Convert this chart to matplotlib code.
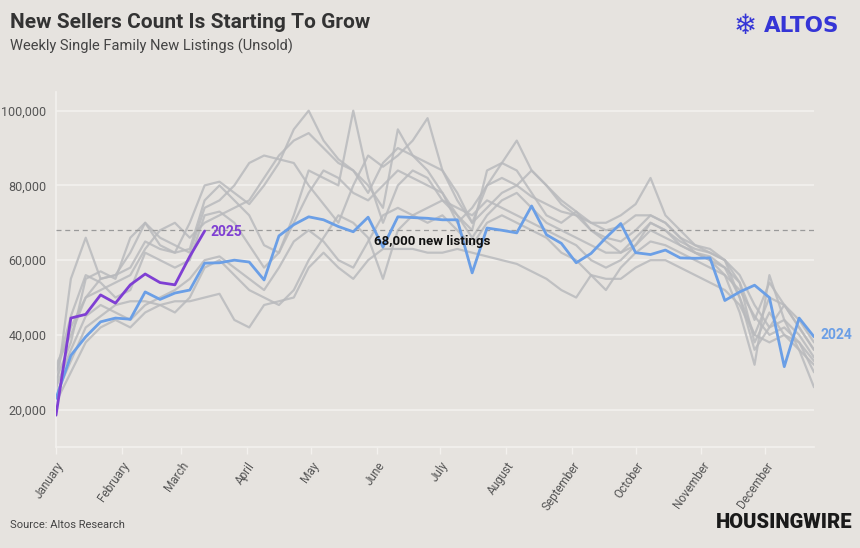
import numpy as np
import matplotlib
matplotlib.use("Agg")
import matplotlib.pyplot as plt
from matplotlib import font_manager as fm

# weekly values (thousands of new listings), week 0 = first week of January
blue_2024 = [23, 34.5, 39.5, 43.5, 44.5, 44.2, 51.5, 49.5, 51.2, 52, 59.2, 59.3, 60,
             59.5, 54.7, 66.5, 69.5, 71.6, 70.8, 69, 67.6, 71.5, 63.5, 71.6, 71.4,
             71.2, 70.8, 70.8, 56.6, 68.6, 68, 67.3, 74.5, 66.8, 64.5, 59.3, 61.8,
             66, 69.8, 62, 61.5, 62.7, 60.6, 60.5, 60.6, 49.2, 51.5, 53.3, 50, 31.5,
             44.5, 39.5]
purple_2025 = [18.5, 44.5, 45.5, 50.7, 48.5, 53.4, 56.3, 54, 53.4, 61, 67.8]

grey_years = [
    [30, 42, 50, 55, 56, 58, 65, 63, 62, 70, 80, 81, 78, 75, 80, 86, 95, 100, 92, 87, 84, 78, 86, 90, 88, 84,
     78, 70, 74, 80, 82, 80, 77, 75, 73, 72, 70, 68, 69, 72, 72, 70, 66, 64, 62, 60, 56, 48, 42, 48, 44, 38],
    [25, 55, 66, 55, 56, 62, 70, 64, 62, 63, 76, 80, 76, 72, 64, 62, 72, 84, 82, 80, 100, 82, 70, 80, 84, 82,
     76, 72, 68, 84, 86, 84, 78, 72, 70, 73, 68, 66, 65, 68, 72, 70, 66, 62, 61, 58, 50, 40, 50, 48, 42, 36],
    [24, 33, 42, 45, 48, 49, 49, 48, 49, 49, 50, 51, 44, 42, 48, 49, 50, 58, 62, 58, 55, 60, 63, 63, 63, 62,
     62, 63, 62, 61, 60, 59, 57, 55, 52, 50, 56, 55, 55, 58, 60, 60, 58, 56, 54, 52, 48, 40, 38, 40, 36, 32],
    [28, 38, 55, 57, 55, 66, 70, 66, 64, 62, 74, 76, 80, 86, 88, 87, 86, 80, 75, 70, 80, 88, 85, 88, 92, 98,
     84, 76, 70, 74, 78, 80, 84, 80, 75, 72, 68, 65, 62, 64, 70, 68, 65, 63, 62, 60, 50, 36, 42, 44, 40, 34],
    [32, 40, 50, 52, 54, 56, 63, 68, 70, 66, 70, 72, 74, 76, 82, 88, 92, 94, 90, 86, 84, 80, 74, 95, 88, 86,
     84, 78, 70, 80, 86, 92, 84, 80, 76, 73, 70, 70, 72, 75, 82, 72, 68, 64, 63, 60, 54, 44, 54, 48, 42, 36],
    [26, 36, 45, 48, 46, 44, 48, 50, 52, 55, 60, 61, 58, 55, 52, 58, 65, 68, 65, 60, 58, 65, 72, 74, 72, 70,
     72, 68, 64, 70, 72, 70, 68, 66, 62, 60, 56, 52, 58, 62, 65, 64, 62, 60, 58, 56, 52, 45, 40, 42, 38, 33],
    [22, 30, 38, 42, 44, 42, 46, 48, 46, 50, 58, 60, 56, 52, 50, 48, 52, 60, 66, 72, 70, 66, 55, 68, 72, 74,
     76, 74, 72, 76, 74, 72, 70, 68, 66, 64, 60, 58, 60, 64, 68, 66, 64, 62, 60, 58, 54, 38, 46, 40, 38, 30],
    [30, 45, 56, 54, 50, 52, 62, 60, 58, 60, 72, 73, 70, 64, 58, 62, 70, 78, 84, 82, 78, 76, 80, 84, 82, 80,
     78, 72, 66, 72, 76, 78, 74, 70, 68, 66, 64, 62, 62, 66, 70, 68, 64, 62, 60, 56, 46, 32, 56, 44, 36, 26],
]

months = ["January", "February", "March", "April", "May", "June", "July",
          "August", "September", "October", "November", "December"]
month_start_day = [0, 31, 59, 90, 120, 151, 181, 212, 243, 273, 304, 334]
yticks = [20000, 40000, 60000, 80000, 100000]
ref_level = 68000

BG = "#e6e3df"
GRID = "#f3f1ee"
GREY = "#b9babd"
BLUE = "#6b9fe6"
PURPLE = "#7f3fd3"
ALTOS = "#3535d6"

names = {f.name for f in fm.fontManager.ttflist}
NARROW = "Liberation Sans Narrow" if "Liberation Sans Narrow" in names else "Roboto"

fig = plt.figure(figsize=(8.6, 5.48), dpi=100, facecolor=BG)
ax = fig.add_axes([56 / 860, 1 - 447 / 548, (814 - 56) / 860, (447 - 92) / 548])
ax.set_facecolor(BG)

days = lambda n: np.arange(n) * 7
for g in grey_years:
    ax.plot(days(len(g)), np.array(g) * 1000, color=GREY, lw=1.6, alpha=0.85,
            solid_joinstyle="round", solid_capstyle="round", zorder=2)
ax.plot(days(len(blue_2024)), np.array(blue_2024) * 1000, color=BLUE, lw=2.0,
        solid_joinstyle="round", solid_capstyle="round", zorder=4)
ax.plot(days(len(purple_2025)), np.array(purple_2025) * 1000, color=PURPLE, lw=2.0,
        solid_joinstyle="round", solid_capstyle="round", zorder=5)

ax.axhline(ref_level, color="#9a9a9a", lw=0.9, ls=(0, (4, 3)), zorder=3)
ax.text(177, 65000, "68,000 new listings", ha="center", va="center", fontsize=9.5,
        fontweight="bold", color="#111111", family=NARROW, zorder=6)

ax.text(len(purple_2025) * 7 - 7 + 3, purple_2025[-1] * 1000 - 300, "2025", color=PURPLE,
        fontsize=10, fontweight="bold", family=NARROW, va="center", ha="left", zorder=6)
ax.text(len(blue_2024) * 7 - 7 + 3, 40000, "2024", color=BLUE, fontsize=10,
        fontweight="bold", family=NARROW, va="center", ha="left", clip_on=False)

ax.set_xlim(0, 357)
ax.set_ylim(10000, 105000)
ax.set_yticks(yticks)
ax.set_yticklabels([f"{v:,}" for v in yticks], family=NARROW, fontsize=9, color="#555555")
ax.set_xticks(month_start_day)
ax.set_xticklabels(months, rotation=55, ha="right", va="top", rotation_mode="anchor",
                   family=NARROW, fontsize=8.5, color="#555555")
ax.tick_params(axis="y", length=0, pad=7)
ax.tick_params(axis="x", length=5, color=GRID, width=1, pad=4)
ax.grid(axis="y", color=GRID, lw=1.2, zorder=1)
ax.set_axisbelow(True)
for s in ["top", "right"]:
    ax.spines[s].set_visible(False)
for s in ["left", "bottom"]:
    ax.spines[s].set_color(GRID)
    ax.spines[s].set_linewidth(1.2)

fig.text(10 / 860, 1 - 22 / 548, "New Sellers Count Is Starting To Grow", fontsize=15,
         fontweight="bold", color="#333333", family=NARROW, va="center")
fig.text(10 / 860, 1 - 46 / 548, "Weekly Single Family New Listings (Unsold)", fontsize=10.5,
         color="#444444", family=NARROW, va="center")
fig.text(745 / 860, 1 - 26 / 548, "\u2744", fontsize=20, color=ALTOS, family="DejaVu Sans",
         fontweight="bold", ha="center", va="center")
fig.text(764 / 860, 1 - 26 / 548, "ALTOS", fontsize=15.5, color=ALTOS, family="DejaVu Sans",
         fontweight="bold", ha="left", va="center")
fig.text(10 / 860, 1 - 525 / 548, "Source: Altos Research", fontsize=8, color="#444444",
         family=NARROW, va="center")
fig.text(852 / 860, 1 - 523 / 548, "HOUSINGWIRE", fontsize=14.5, color="#1a1a1a",
         family=NARROW, fontweight="heavy", ha="right", va="center")

fig.savefig("out.png", dpi=100, facecolor=BG)
